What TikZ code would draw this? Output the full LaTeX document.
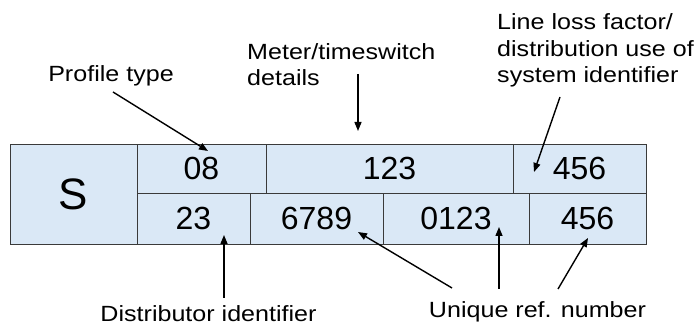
\documentclass[tikz,border=0pt]{standalone}
\usepackage{fontspec}
\setmainfont{Liberation Sans}
\usepackage{xcolor}
\usetikzlibrary{arrows.meta, positioning, calc}
\definecolor{mpBlue}{HTML}{DAE8F6}
\definecolor{mpLine}{HTML}{3A3A3A}

\begin{document}
\begin{tikzpicture}[
  x=1pt, y=-1pt,
  cell/.style={draw=mpLine, line width=0.8pt, fill=mpBlue, rectangle, inner sep=0pt,
               font=\fontsize{32}{36}\selectfont, minimum height=#1},
  cell/.default=49pt,
  lbl/.style={inner sep=0pt, xscale=1.14, transform shape,
              font=\fontsize{22}{26.5}\selectfont, align=left},
  arr/.style={line width=1.4pt, -{Triangle[length=9pt,width=7pt]}},
]
\useasboundingbox (0,0) rectangle (694,328);

% ---------------- Kennzeichen (links) ----------------
\node[cell=100pt, minimum width=127pt, font=\fontsize{44}{48}\selectfont] (cS) at (73.5,194) {S};

% ---------------- obere Zeile ----------------
\node[cell, minimum width=129pt] (c08)   at (201.5,168.5) {08};
\node[cell, minimum width=247pt] (c123)  at (389.5,168.5) {123};
\node[cell, minimum width=133pt] (c456a) at (579.5,168.5) {456};

% ---------------- untere Zeile ----------------
\node[cell=51pt, minimum width=113pt] (c23)   at (193.5,218.5) {23};
\node[cell=51pt, minimum width=133pt] (c6789) at (316.5,218.5) {6789};
\node[cell=51pt, minimum width=146pt] (c0123) at (456,218.5)   {0123};
\node[cell=51pt, minimum width=117pt] (c456b) at (587.5,218.5) {456};

% ---------------- Beschriftungen ----------------
\node[lbl, anchor=base]      (lprof)  at (111,82)    {Profile type};
\node[lbl, anchor=base west] (lmeter) at (247,86)    {Meter/timeswitch\\details};
\node[lbl, anchor=base west] (lline)  at (497,83)    {Line loss factor/\\distribution use of\\system identifier};
\node[lbl, anchor=base]      (ldist)  at (208.5,322) {Distributor identifier};
\node[lbl, anchor=base]      (luniq)  at (537.5,318) {Unique ref. number};

% ---------------- Pfeilspitzen ----------------
\coordinate (t08)   at (208,151);
\coordinate (t123)  at (358,131);
\coordinate (t456a) at (534,172);
\coordinate (t23)   at (224,235);
\coordinate (t6789) at (358,232);
\coordinate (t0123) at (499,227);
\coordinate (t456b) at (588,238);

% ---------------- Pfeile ----------------
\draw[arr] ($(lprof.base)+(2,10)$)        -- (t08);
\draw[arr] ($(lmeter.base west)+(111,-12)$) -- (t123);
\draw[arr] ($(lline.base west)+(63,14)$)  -- (t456a);
\draw[arr] ($(ldist.base)+(15.5,-24)$)    -- (t23);
\draw[arr] ($(luniq.base)+(-85.5,-30)$)   -- (t6789);
\draw[arr] ($(luniq.base)+(-38.5,-29)$)   -- (t0123);
\draw[arr] ($(luniq.base)+(20.5,-29)$)    -- (t456b);
\end{tikzpicture}
\end{document}
